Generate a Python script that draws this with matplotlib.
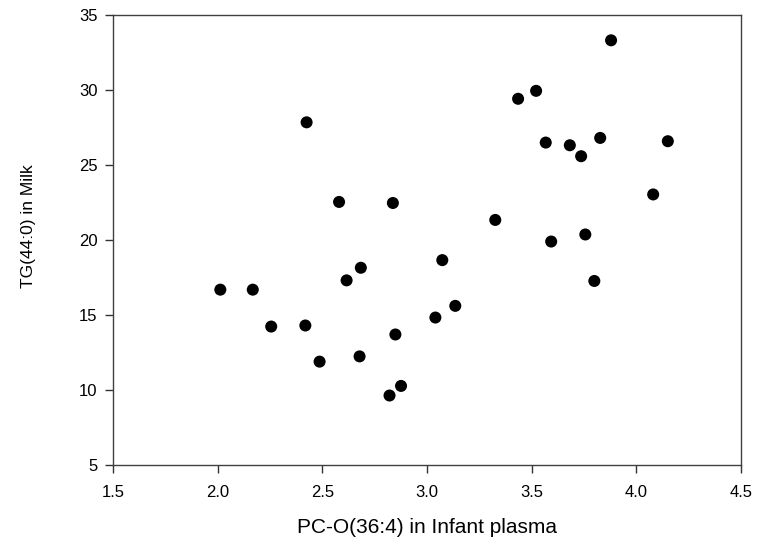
import matplotlib
matplotlib.use("Agg")
import matplotlib.pyplot as plt

# PC-O(36:4) in infant plasma vs TG(44:0) in milk
pc_o = [2.013, 2.168, 2.256, 2.419, 2.487, 2.425, 2.580, 2.837, 2.616, 2.684,
        2.678, 2.849, 2.821, 2.876, 3.040, 3.073, 3.135, 3.326, 3.435, 3.521,
        3.567, 3.593, 3.682, 3.736, 3.756, 3.827, 3.799, 3.879, 4.080, 4.150]
tg = [16.69, 16.69, 14.23, 14.30, 11.89, 27.85, 22.54, 22.47, 17.31, 18.15,
      12.24, 13.70, 9.63, 10.27, 14.83, 18.66, 15.61, 21.34, 29.42, 29.95,
      26.50, 19.90, 26.32, 25.59, 20.37, 26.81, 17.27, 33.32, 23.04, 26.59]

xticks = [1.5, 2.0, 2.5, 3.0, 3.5, 4.0, 4.5]
yticks = [5, 10, 15, 20, 25, 30, 35]

plt.rcParams["font.family"] = ["Liberation Sans", "DejaVu Sans"]

fig = plt.figure(figsize=(7.68, 5.40), dpi=100)
ax = fig.add_axes([0.147, 0.139, 0.818, 0.833])

ax.scatter(pc_o, tg, s=75, color="black", edgecolors="none", zorder=3)

ax.set_xlim(1.5, 4.5)
ax.set_ylim(5, 35)
ax.set_xticks(xticks)
ax.set_xticklabels([f"{v:.1f}" for v in xticks])
ax.set_yticks(yticks)
ax.set_yticklabels([str(v) for v in yticks])
ax.tick_params(direction="out", length=6, width=1, labelsize=12, color="#333333")
ax.tick_params(axis="x", pad=8.5)
ax.tick_params(axis="y", pad=5)

for sp in ax.spines.values():
    sp.set_linewidth(1)
    sp.set_color("#404040")

ax.set_xlabel("PC-O(36:4) in Infant plasma", fontsize=15)
ax.set_ylabel("TG(44:0) in Milk", fontsize=12.5)
ax.xaxis.set_label_coords(0.5, -0.117)
ax.yaxis.set_label_coords(-0.122, 0.531)

fig.savefig("out.png", dpi=100)
